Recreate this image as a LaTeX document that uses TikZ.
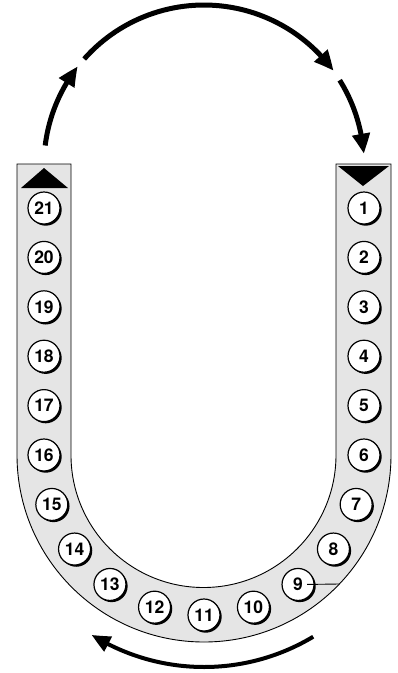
\documentclass[tikz,border=0pt]{standalone}
\usepackage{fontspec}
\newfontfamily\numfont{TeX Gyre Heros}
\usetikzlibrary{arrows.meta,bending,shadows}
\begin{document}
\begin{tikzpicture}[x=1pt,y=-1pt,
  ball/.style={circle,draw=black,line width=1.2pt,fill=white,minimum size=32pt,inner sep=0pt,
    font=\numfont\bfseries\fontsize{17.5}{17.5}\selectfont,
    drop shadow={shadow xshift=1.7pt,shadow yshift=-1.7pt,opacity=1,fill=black}},
  channel/.style={draw=black,line width=0.9pt,fill=black!10},
  marker/.style={fill=black,draw=none},
  toparrow/.style={line width=5pt,-{Triangle[length=20pt,width=17pt,bend]}},
  botarrow/.style={line width=4pt,-{Triangle[length=19pt,width=16pt,bend]}},
  thin line/.style={line width=0.9pt}
]
\useasboundingbox (0,0) rectangle (398,673);

% U-shaped channel
\path[channel] (17,164) -- (17,455) arc[start angle=180,end angle=0,radius=187]
  -- (391,164) -- (336,164) -- (336,455) arc[start angle=0,end angle=180,radius=132.5]
  -- (71,164) -- cycle;

% direction markers
\path[marker] (21,188) -- (68,188) -- (44,168) -- cycle;
\path[marker] (338,166) -- (389,166) -- (363,186) -- cycle;

% balls on the right column
\node[ball] (n1) at (364,208) {1};
\node[ball] (n2) at (364,257.4) {2};
\node[ball] (n3) at (364,306.8) {3};
\node[ball] (n4) at (364,356.2) {4};
\node[ball] (n5) at (364,405.6) {5};
\node[ball] (n6) at (364,455) {6};
% balls round the bend
\node[ball] (n7)  at ([shift={(204,455)}]18:160) {7};
\node[ball] (n8)  at ([shift={(204,455)}]36:160) {8};
\node[ball] (n9)  at ([shift={(204,455)}]54:160) {9};
\node[ball] (n10) at ([shift={(204,455)}]72:160) {10};
\node[ball] (n11) at ([shift={(204,455)}]90:160) {11};
\node[ball] (n12) at ([shift={(204,455)}]108:160) {12};
\node[ball] (n13) at ([shift={(204,455)}]126:160) {13};
\node[ball] (n14) at ([shift={(204,455)}]144:160) {14};
\node[ball] (n15) at ([shift={(204,455)}]162:160) {15};
% balls on the left column
\node[ball] (n16) at (44,455) {16};
\node[ball] (n17) at (44,405.6) {17};
\node[ball] (n18) at (44,356.2) {18};
\node[ball] (n19) at (44,306.8) {19};
\node[ball] (n20) at (44,257.4) {20};
\node[ball] (n21) at (44,208) {21};

% pointer from ball 9 to the channel wall
\coordinate (edge9) at (339,584);
\draw[thin line] ([xshift=9pt]n9.center) -- (edge9);

% top circulation arrows (circle centre (204,165), radius 160)
\coordinate (a1) at ([shift={(204,165)}]-173:160);
\coordinate (a2) at ([shift={(204,165)}]-138.5:160);
\coordinate (a3) at ([shift={(204,165)}]-32:160);
\draw[toparrow] (a1) arc[start angle=-173,end angle=-142,radius=160];
\draw[toparrow] (a2) arc[start angle=-138.5,end angle=-36,radius=160];
\draw[toparrow] (a3) arc[start angle=-32,end angle=-4,radius=160];

% bottom arrow
\coordinate (b1) at ([shift={(204,455)}]59:212);
\draw[botarrow] (b1) arc[start angle=59,end angle=122,radius=212];
\end{tikzpicture}
\end{document}
